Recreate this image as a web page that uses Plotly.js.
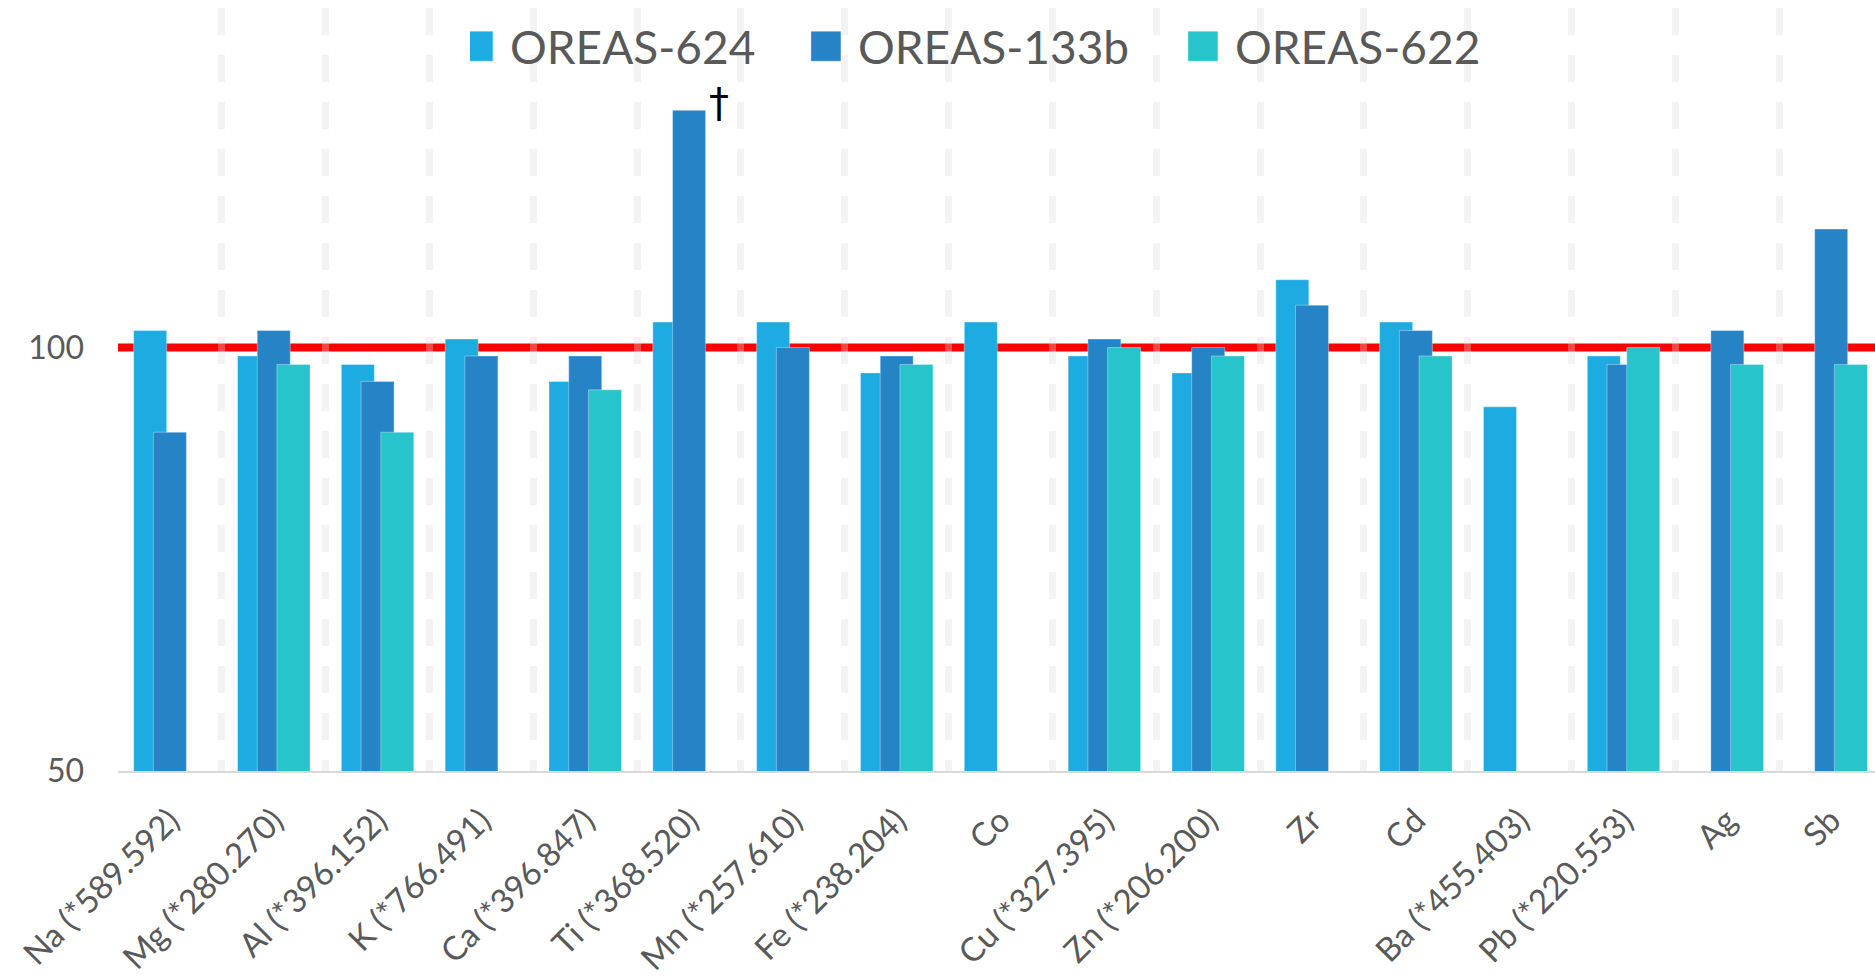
<!DOCTYPE html>
<html>
<head>
<meta charset="utf-8">
<script src="https://cdn.plot.ly/plotly-3.0.1.min.js"></script>
<style>
  html, body { margin: 0; padding: 0; background: #ffffff; overflow: hidden; }
  #chart { width: 1875px; height: 980px; }
</style>
</head>
<body>
<div id="chart"></div>
<script>
// ---- data ----
const categories = ["Na (*589.592)", "Mg (*280.270)", "Al (*396.152)", "K (*766.491)",
  "Ca (*396.847)", "Ti (*368.520)", "Mn (*257.610)", "Fe (*238.204)", "Co",
  "Cu (*327.395)", "Zn (*206.200)", "Zr", "Cd", "Ba (*455.403)", "Pb (*220.553)", "Ag", "Sb"];
const oreas624  = [102, 99, 98, 101, 96, 103, 103, 97, 103, 99, 97, 108, 103, 93, 99, null, null];
const oreas133b = [90, 102, 96, 99, 99, 128, 100, 99, null, 101, 100, 105, 102, null, 98, 102, 114];
const oreas622  = [null, 98, 90, null, 95, null, null, 98, null, 100, 99, null, 99, null, 100, 98, 98];
const seriesNames = ["OREAS-624", "OREAS-133b", "OREAS-622"];
const referenceValue = 100;
const yTickVals = [50, 100];
const flaggedIndex = 5;   // Ti, OREAS-133b flagged with a dagger
const flagText = "\u2020";

// ---- styling ----
const colors = ["#1DABE2", "#2683C6", "#27C4CB"];
const legendWidths = [303, 332, 260];
const barWidth = 0.318;
const centers = [-0.19, 0, 0.19];
const textColor = "#595959";
const fontFamily = "Lato, 'Open Sans', sans-serif";

const seriesValues = [oreas624, oreas133b, oreas622];
const traces = seriesValues.map((vals, i) => ({
  type: "bar",
  name: seriesNames[i],
  x: categories,
  y: vals,
  width: barWidth,
  offset: centers[i] - barWidth / 2,
  legendwidth: legendWidths[i],
  marker: { color: colors[i], line: { color: "rgba(255,255,255,0.35)", width: 1 } },
  hoverinfo: "x+y+name"
}));

const layout = {
  width: 1875,
  height: 980,
  margin: { l: 118, r: 0, t: 0, b: 209, pad: 0 },
  paper_bgcolor: "#ffffff",
  plot_bgcolor: "rgba(0,0,0,0)",
  barmode: "overlay",
  font: { family: fontFamily, color: textColor },
  showlegend: true,
  legend: {
    orientation: "h",
    x: 0.2003, xanchor: "left",
    y: 0.94, yanchor: "middle",
    bgcolor: "rgba(0,0,0,0)",
    font: { size: 46, color: textColor, family: fontFamily },
    traceorder: "normal"
  },
  xaxis: {
    type: "category",
    range: [-0.5, 16.422],
    tickson: "boundaries",
    showgrid: true,
    gridcolor: "rgba(217,217,217,0.32)",
    gridwidth: 7,
    griddash: "0px,8px,27px,12px",
    showline: true,
    linecolor: "#D9D9D9",
    linewidth: 2,
    ticks: "",
    tickangle: -45,
    tickfont: { size: 33, color: textColor, family: fontFamily },
    ticklabelstandoff: 15,
    automargin: false,
    zeroline: false
  },
  yaxis: {
    range: [50, 141.03],
    tickvals: yTickVals,
    ticktext: yTickVals.map(String),
    showgrid: false,
    showline: false,
    zeroline: false,
    ticks: "",
    tickfont: { size: 32, color: textColor, family: fontFamily },
    ticklabelstandoff: 33,
    automargin: false
  },
  shapes: [{
    type: "line",
    layer: "below",
    xref: "paper", x0: 0, x1: 1,
    yref: "y", y0: referenceValue, y1: referenceValue,
    line: { color: "#FF0000", width: 8 }
  }],
  annotations: [{
    x: categories[flaggedIndex],
    y: oreas133b[flaggedIndex],
    xref: "x", yref: "y",
    text: flagText,
    showarrow: false,
    xanchor: "center", yanchor: "middle",
    xshift: 30, yshift: 7,
    font: { size: 40, color: "#000000", family: "'DejaVu Sans', sans-serif" }
  }]
};

Plotly.newPlot("chart", traces, layout, { displayModeBar: false, staticPlot: true }).then(() => {
  // enlarge the legend keys to the large squares of the reference
  document.querySelectorAll(".legend .legendpoints path").forEach(p => {
    p.setAttribute("d", "M15,15H-15V-15H15Z");
    p.setAttribute("transform", "translate(8,0)");
  });
});
</script>
</body>
</html>
